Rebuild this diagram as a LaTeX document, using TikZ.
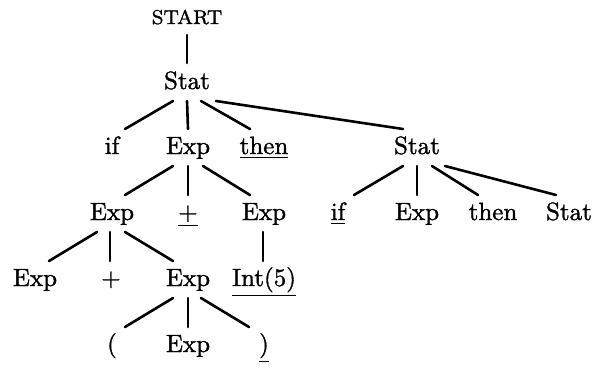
\documentclass[tikz,border=0pt]{standalone}
\usepackage{graphicx}
\font\thk="[lmroman10-regular]:mapping=tex-text;embolden=1.3" at 10pt
\font\thks="[lmroman8-regular]:mapping=tex-text;embolden=1.3" at 8pt
\tikzset{
  lbl/.style={anchor=base, inner sep=0pt, outer sep=0pt},
  branch/.style={line width=2.6pt, line cap=round}
}
\newcommand\T[1]{\scalebox{2.5}{\thk #1}}
% parent, parent x-offset, child, child x-offset
\newcommand\br[4]{\draw[branch] ([shift={(#2,12)}]#1.base) -- ([shift={(#4,-25)}]#3.base);}
\begin{document}
\begin{tikzpicture}[x=1pt,y=-1pt]
\useasboundingbox (0,0) rectangle (604,368);
% row 1
\node[lbl] (start) at (187,24) {\scalebox{2.5}{\thks START}};
% row 2
\node[lbl] (stat) at (187,89) {\T{Stat}};
% row 3
\node[lbl] (if1) at (112,154) {\T{if}};
\node[lbl] (exp1) at (188,154) {\T{Exp}};
\node[lbl] (then1) at (264,154) {\T{\underline{then}}};
\node[lbl] (stat2) at (417,154) {\T{Stat}};
% row 4
\node[lbl] (exp2) at (112,220) {\T{Exp}};
\node[lbl] (plus1) at (188,220) {\T{\underline{+}}};
\node[lbl] (exp3) at (264,220) {\T{Exp}};
\node[lbl] (if2) at (338,220) {\T{\underline{if}}};
\node[lbl] (exp4) at (417,220) {\T{Exp}};
\node[lbl] (then2) at (493,220) {\T{then}};
\node[lbl] (stat3) at (569,220) {\T{Stat}};
% row 5
\node[lbl] (exp5) at (35,286) {\T{Exp}};
\node[lbl] (plus2) at (111,286) {\T{+}};
\node[lbl] (exp6) at (188,286) {\T{Exp}};
\node[lbl] (int5) at (264,286) {\T{\underline{Int(5)}}};
% row 6
\node[lbl] (lpar) at (112,352) {\T{(}};
\node[lbl] (exp7) at (188,352) {\T{Exp}};
\node[lbl] (rpar) at (264,352) {\T{\underline{)}}};
% branches
\draw[branch] ([shift={(0,11)}]start.base) -- ([shift={(0,-26)}]stat.base);
\br{stat}{-14}{if1}{13}
\br{stat}{0}{exp1}{0}
\br{stat}{14}{then1}{-14}
\br{stat}{29}{stat2}{-14}
\br{exp1}{-15}{exp2}{13}
\br{exp1}{0}{plus1}{0}
\br{exp1}{15}{exp3}{-14}
\br{stat2}{-14}{if2}{16}
\br{stat2}{0}{exp4}{0}
\br{stat2}{15}{then2}{-15}
\br{stat2}{28}{stat3}{-13}
\br{exp2}{-15}{exp5}{14}
\br{exp2}{-2}{plus2}{-1}
\br{exp2}{13}{exp6}{-15}
\br{exp3}{-1}{int5}{-1}
\br{exp6}{-15}{lpar}{13}
\br{exp6}{0}{exp7}{0}
\br{exp6}{13}{rpar}{-15}
\end{tikzpicture}
\end{document}
